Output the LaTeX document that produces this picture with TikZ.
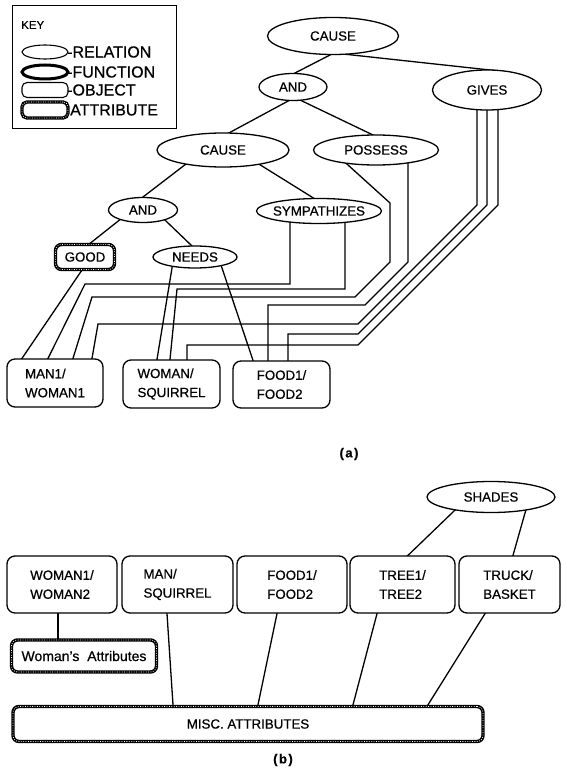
\documentclass[tikz,border=0pt]{standalone}
\usepackage{fontspec}
\setmainfont{Liberation Sans}[FakeBold=0.6]
\usetikzlibrary{shapes.geometric}
\pgfdeclarelayer{background}
\pgfsetlayers{background,main}
\newcommand\zb[1]{\makebox[0pt]{#1}}
\begin{document}
\begin{tikzpicture}[x=1pt,y=-1pt,
  lbl/.style={font=\fontsize{13.3}{19}\selectfont},
  keyf/.style={font=\fontsize{16}{17}\selectfont, inner sep=0pt, anchor=west},
  rel/.style={ellipse, draw, line width=1.3pt, fill=white, inner sep=0pt, lbl},
  fun/.style={ellipse, draw, line width=3pt, fill=white, inner sep=0pt},
  obj/.style={rectangle, draw, line width=1.3pt, rounded corners=8pt, fill=white, inner sep=0pt, align=left, lbl},
  attr/.style={rectangle, draw, line width=3.4pt, rounded corners=6pt, fill=white, inner sep=0pt, lbl,
    postaction={draw=white, line width=0.8pt, dash pattern=on 0.8pt off 1.6pt}},
  conn/.style={line width=1.3pt, shorten <=-6pt, shorten >=-6pt},
  sublbl/.style={font=\fontsize{13}{14}\selectfont\bfseries},
]
\useasboundingbox (0,0) rectangle (565,770);

% ---------- key ----------
\node[draw, line width=1.1pt, minimum width=164, minimum height=123, anchor=north west, inner sep=0pt] (key) at (12,5) {};
\node[font=\fontsize{11.5}{12}\selectfont, inner sep=0pt, anchor=west] (keyt) at (21,25) {KEY};
\node[rel, line width=1.1pt, minimum width=46, minimum height=14] (k1) at (45,52) {};
\node[keyf] (k1t) at (67,52) {-RELATION};
\node[fun, minimum width=46, minimum height=14] (k2) at (45,72) {};
\node[keyf] (k2t) at (67,72) {-FUNCTION};
\node[obj, line width=1.1pt, rounded corners=5pt, minimum width=46, minimum height=15] (k3) at (45,90) {};
\node[keyf] (k3t) at (67,90) {-OBJECT};
\node[attr, rounded corners=5pt, minimum width=46, minimum height=16] (k4) at (45,110) {};
\node[keyf] (k4t) at (70,110) {ATTRIBUTE};

% ---------- (a) ----------
\node[rel, minimum width=131, minimum height=37] (cA) at (333,36) {\zb{CAUSE}};
\node[rel, minimum width=68, minimum height=27] (andA) at (293,87) {\zb{AND}};
\node[rel, minimum width=109, minimum height=40] (gives) at (487,90) {\zb{GIVES}};
\node[rel, minimum width=132, minimum height=34] (cB) at (223,150) {\zb{CAUSE}};
\node[rel, minimum width=125, minimum height=30] (poss) at (376,150) {\zb{POSSESS}};
\node[rel, minimum width=69, minimum height=25] (andB) at (143,210) {\zb{AND}};
\node[rel, minimum width=125, minimum height=25] (symp) at (319,211) {\zb{SYMPATHIZES}};
\node[rel, minimum width=84, minimum height=22] (needs) at (195,257) {\zb{NEEDS}};
\node[attr, minimum width=59, minimum height=25] (good) at (85,257) {GOOD};
\node[obj, minimum width=96, minimum height=48] (man1) at (55,383) {MAN1/\\WOMAN1};
\node[obj, minimum width=97, minimum height=48] (wsq) at (171.5,384) {WOMAN/\\SQUIRREL};
\node[obj, minimum width=97, minimum height=47] (food) at (281.5,384.5) {FOOD1/\\FOOD2};
\node[sublbl] (la) at (349,454) {(\kern1.5pt a\kern1.5pt)};

% ---------- (b) ----------
\node[rel, minimum width=128, minimum height=31] (shades) at (491,497) {\zb{SHADES}};
\node[obj, minimum width=110, minimum height=57] (bw) at (62,584.5) {WOMAN1/\\WOMAN2};
\node[obj, minimum width=111, minimum height=57] (bm) at (177.5,584.5) {MAN/\\SQUIRREL};
\node[obj, minimum width=110, minimum height=57] (bf) at (292,584.5) {FOOD1/\\FOOD2};
\node[obj, minimum width=105, minimum height=57] (bt) at (402.5,584.5) {TREE1/\\TREE2};
\node[obj, minimum width=101, minimum height=57] (bk) at (509.5,584.5) {TRUCK/\\BASKET};
\node[attr, minimum width=145, minimum height=32, font=\fontsize{14}{16}\selectfont] (wattr) at (84,656) {Woman's\hspace{4pt} Attributes};
\node[attr, minimum width=470, minimum height=35] (misc) at (248,724) {MISC. ATTRIBUTES};
\node[sublbl] (lb) at (283,760) {(\kern1.5pt b\kern1.5pt)};

% ---------- connectors ----------
\begin{pgfonlayer}{background}
\draw[conn] ([shift={(-3,19)}]cA.center) -- ([shift={(2,-14)}]andA.center);
\draw[conn] ([shift={(10,18)}]cA.center) -- ([shift={(3,-20)}]gives.center);
\draw[conn] ([shift={(-3,13)}]andA.center) -- ([shift={(4,-16)}]cB.center);
\draw[conn] ([shift={(7,13)}]andA.center) -- ([shift={(-3,-15)}]poss.center);
\draw[conn] ([shift={(-37,14)}]cB.center) -- ([shift={(0,-13)}]andB.center);
\draw[conn] ([shift={(39,16)}]cB.center) -- ([shift={(-4,-12)}]symp.center);
\draw[conn] ([shift={(-26,12)}]andB.center) -- ([shift={(3,-12)}]good.center);
\draw[conn] ([shift={(24,12)}]andB.center) -- ([shift={(-3,-11)}]needs.center);
\draw[conn] ([shift={(-3,13)}]good.center) -- ([xshift=-33pt]man1.north);
\draw[conn] ([shift={(-23,11)}]needs.center) -- ([xshift=-14.5pt]wsq.north);
\draw[conn] ([shift={(27,11)}]needs.center) -- ([xshift=-28.5pt]food.north);
\draw[conn] ([xshift=-29pt]symp.south) -- (290,284) -- (85,284) -- ([xshift=-7pt]man1.north);
\draw[conn] ([xshift=26pt]symp.south) -- (345,289) -- (177,289) -- ([xshift=-1.5pt]wsq.north);
\draw[conn] ([shift={(-28,15)}]poss.center) -- (390,203) -- (390,262) -- (355,297) -- (92,297) -- ([xshift=18pt]man1.north);
\draw[conn] ([xshift=32pt]poss.south) -- (408,262) -- (365,305) -- (268,305) -- ([xshift=-13.5pt]food.north);
\draw[conn] ([xshift=-10pt]gives.south) -- (477,205) -- (358,324) -- (98,324) -- ([xshift=37pt]man1.north);
\draw[conn] (gives.south) -- (487,205) -- (358,334) -- (288,334) -- ([xshift=6.5pt]food.north);
\draw[conn] ([xshift=11pt]gives.south) -- (498,205) -- (358,345) -- (187,345) -- ([xshift=15.5pt]wsq.north);

\draw[conn] ([shift={(-38,15)}]shades.center) -- ([xshift=5.5pt]bt.north);
\draw[conn] ([shift={(34,16)}]shades.center) -- ([xshift=3.5pt]bk.north);
\draw[conn] ([xshift=-4pt]bw.south) -- ([xshift=-26pt]wattr.north);
\draw[conn] ([xshift=-10.5pt]bm.south) -- ([xshift=-75pt]misc.north);
\draw[conn] ([xshift=-15pt]bf.south) -- ([xshift=10pt]misc.north);
\draw[conn] ([xshift=-25.5pt]bt.south) -- ([xshift=105pt]misc.north);
\draw[conn] ([xshift=-24.5pt]bk.south) -- ([xshift=180pt]misc.north);
\end{pgfonlayer}
\end{tikzpicture}
\end{document}
